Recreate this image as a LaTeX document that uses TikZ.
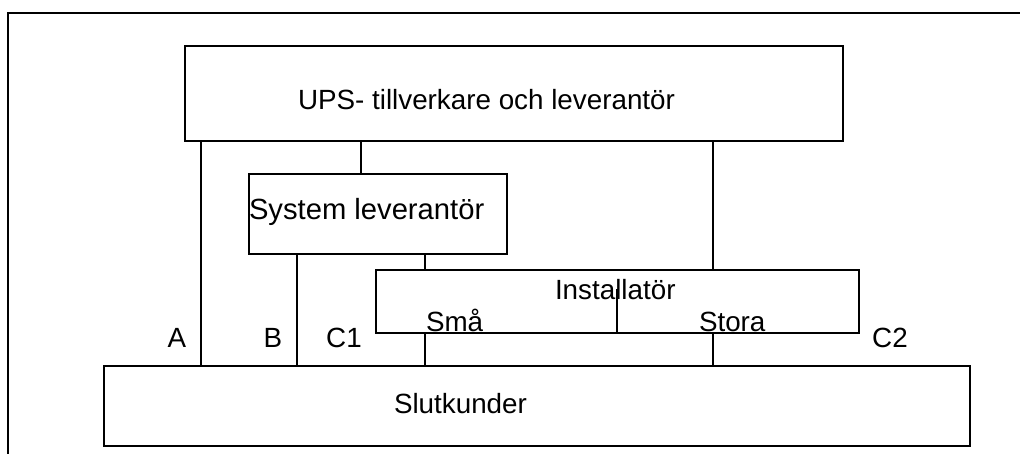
\documentclass[tikz,border=0pt]{standalone}
\usepackage{fontspec}
\setmainfont{Liberation Sans}
\usetikzlibrary{calc}
\begin{document}
\begin{tikzpicture}[x=1pt,y=-1pt,
  line width=2pt,
  box/.style={draw, rectangle, inner sep=0pt, anchor=north west},
  txt/.style={inner sep=0pt, anchor=base west, font=\fontsize{27.8}{33}\selectfont},
  link/.style={draw, line cap=rect}]
\useasboundingbox (0,0) rectangle (1020,454);
\clip (0,0) rectangle (1020,454);
% outer frame (runs past the right and bottom edges)
\draw (8,13) rectangle (1040,474);

% boxes
\node[box, minimum width=658pt, minimum height=95pt]  (ups)  at (184,45)  {};
\node[box, minimum width=258pt, minimum height=80pt]  (sys)  at (248,173) {};
\node[box, minimum width=483pt, minimum height=63pt]  (inst) at (375,269) {};
\node[box, minimum width=866pt, minimum height=80pt]  (slut) at (103,365) {};

% texts
\node[txt] (upst)  at (297,110) {UPS- tillverkare och leverantör};
\node[txt, font=\fontsize{29.2}{35}\selectfont] (syst) at (248,220) {System leverantör};
\node[txt] (instt) at (554,300) {Installatör};
\node[txt] (sma)   at (425,331) {Små};
\node[txt] (stora) at (698,331) {Stora};
\node[txt] (slutt) at (393,413) {Slutkunder};
\node[txt, anchor=base] (la)  at (177,348) {A};
\node[txt, anchor=base] (lb)  at (273,348) {B};
\node[txt, anchor=base] (lc1) at (344,348) {C1};
\node[txt, anchor=base] (lc2) at (890,348) {C2};

% connectors
\coordinate (xa)  at (201,0);
\coordinate (xs)  at (361,0);
\coordinate (xst) at (713,0);
\coordinate (xb)  at (297,0);
\coordinate (xc)  at (425,0);
\coordinate (xd)  at (617,289);

\draw (ups.south -| xa)  -- (slut.north -| xa);
\draw (ups.south -| xs)  -- (sys.north -| xs);
\draw (ups.south -| xst) -- (inst.north -| xst);
\draw (sys.south -| xb)  -- (slut.north -| xb);
\draw (sys.south -| xc)  -- (inst.north -| xc);
\draw (xd) -- (inst.south -| xd);
\draw (inst.south -| xc)  -- (slut.north -| xc);
\draw (inst.south -| xst) -- (slut.north -| xst);
\end{tikzpicture}
\end{document}
